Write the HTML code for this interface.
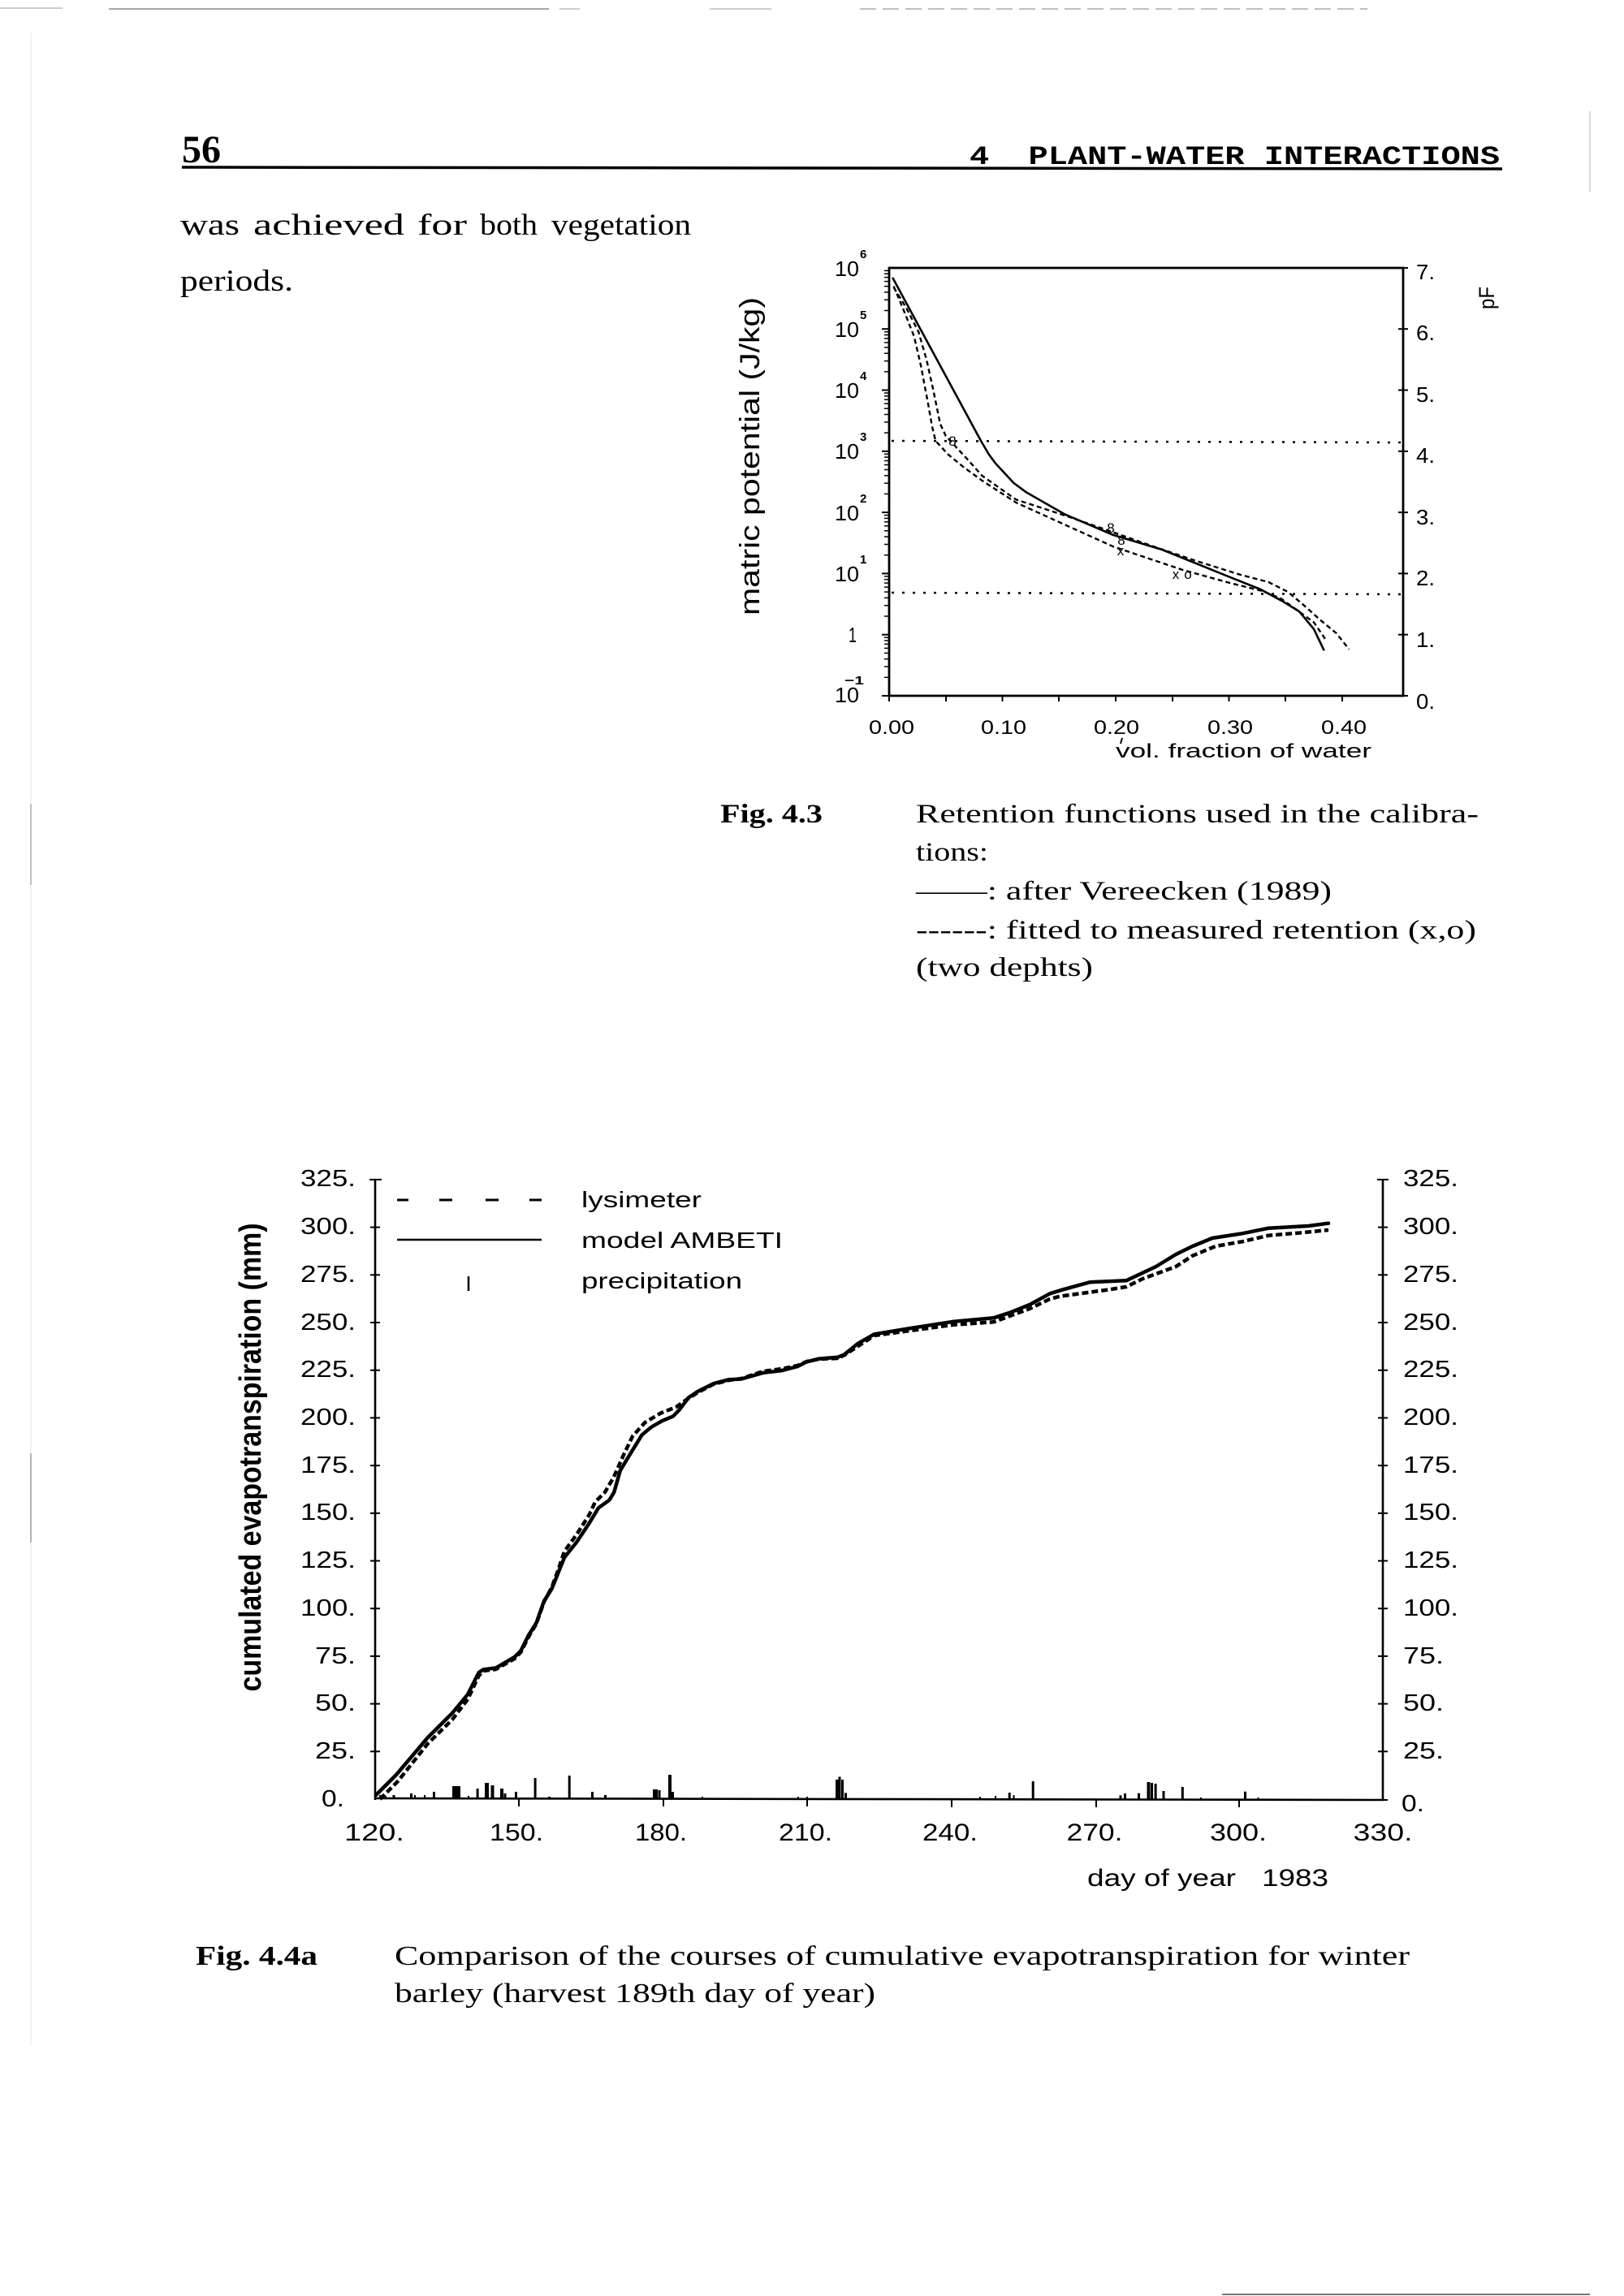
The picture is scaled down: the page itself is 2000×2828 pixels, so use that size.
<!DOCTYPE html>
<html><head><meta charset="utf-8"><style>
html,body{margin:0;padding:0;background:#fff;}
svg{display:block;}
.s{font-family:"Liberation Sans",sans-serif;}
.r{font-family:"Liberation Serif",serif;}
.m{font-family:"Liberation Mono",monospace;}
</style></head><body>
<svg width="2000" height="2828" viewBox="0 0 2000 2828" xmlns="http://www.w3.org/2000/svg">
<rect width="2000" height="2828" fill="#fff"/>
<!-- scan artifacts -->
<g stroke="#888" stroke-width="1.5" fill="none">
<line x1="0" y1="10" x2="77" y2="10" stroke="#bbb"/>
<line x1="134" y1="11" x2="676" y2="11"/>
<line x1="689" y1="11" x2="714" y2="11" stroke="#bbb"/>
<line x1="874" y1="11" x2="950" y2="11" stroke="#bbb"/>
<line x1="1059" y1="11" x2="1684" y2="11" stroke="#aaa" stroke-dasharray="20 8"/>
<line x1="38" y1="40" x2="38" y2="2520" stroke="#e4e4e4" stroke-width="1"/>
<line x1="38" y1="990" x2="38" y2="1090" stroke="#aaa"/>
<line x1="38" y1="1790" x2="38" y2="1900" stroke="#999"/>
<line x1="1958" y1="137" x2="1958" y2="236" stroke="#ccc"/>
<line x1="1505" y1="2826" x2="1958" y2="2826" stroke="#777" stroke-width="2"/>
</g>

<!-- header -->
<text class="r" x="224" y="200" font-size="48" font-weight="bold" textLength="48" lengthAdjust="spacingAndGlyphs">56</text>
<text class="m" x="1194" y="202" font-size="32" font-weight="bold" textLength="653" lengthAdjust="spacingAndGlyphs" xml:space="preserve">4  PLANT-WATER INTERACTIONS</text>
<line x1="224" y1="206" x2="1850" y2="208" stroke="#000" stroke-width="3.5"/>

<!-- body text -->
<g class="r" font-size="37">
<text x="222" y="289" textLength="73" lengthAdjust="spacingAndGlyphs">was</text>
<text x="312" y="289" textLength="186" lengthAdjust="spacingAndGlyphs">achieved</text>
<text x="514" y="289" textLength="61" lengthAdjust="spacingAndGlyphs">for</text>
<text x="591" y="289" textLength="71" lengthAdjust="spacingAndGlyphs">both</text>
<text x="679" y="289" textLength="172" lengthAdjust="spacingAndGlyphs">vegetation</text>
<text x="222" y="358" textLength="139" lengthAdjust="spacingAndGlyphs">periods.</text>
</g>

<!-- ============ Fig 4.3 ============ -->
<g fill="none" stroke="#000">
<rect x="1095" y="330" width="633" height="527" stroke-width="2.8"/>
</g>
<defs>
<g id="dec" stroke="#000" stroke-width="1.5">
<line x1="1086" y1="0" x2="1095" y2="0" stroke-width="2"/>
<line x1="1089" y1="-22.7" x2="1095" y2="-22.7"/>
<line x1="1089" y1="-35.9" x2="1095" y2="-35.9"/>
<line x1="1089" y1="-45.3" x2="1095" y2="-45.3"/>
<line x1="1089" y1="-52.6" x2="1095" y2="-52.6"/>
<line x1="1089" y1="-58.6" x2="1095" y2="-58.6"/>
<line x1="1089" y1="-63.6" x2="1095" y2="-63.6"/>
<line x1="1089" y1="-68.0" x2="1095" y2="-68.0"/>
<line x1="1089" y1="-71.8" x2="1095" y2="-71.8"/>
</g>
</defs>
<use href="#dec" y="857"/>
<use href="#dec" y="781.7"/>
<use href="#dec" y="706.4"/>
<use href="#dec" y="631.1"/>
<use href="#dec" y="555.8"/>
<use href="#dec" y="480.5"/>
<use href="#dec" y="405.2"/>
<!-- bottom ticks -->
<g stroke="#000" stroke-width="2">
<line x1="1165" y1="857" x2="1165" y2="864"/>
<line x1="1234.5" y1="857" x2="1234.5" y2="864"/>
<line x1="1304" y1="857" x2="1304" y2="864"/>
<line x1="1374" y1="857" x2="1374" y2="864"/>
<line x1="1444" y1="857" x2="1444" y2="864"/>
<line x1="1513.5" y1="857" x2="1513.5" y2="864"/>
<line x1="1583" y1="857" x2="1583" y2="864"/>
<line x1="1653" y1="857" x2="1653" y2="864"/>
<line x1="1095" y1="857" x2="1095" y2="864"/>
<!-- right ticks -->
<line x1="1722" y1="781.7" x2="1734" y2="781.7"/>
<line x1="1722" y1="706.4" x2="1734" y2="706.4"/>
<line x1="1722" y1="631.1" x2="1734" y2="631.1"/>
<line x1="1722" y1="555.8" x2="1734" y2="555.8"/>
<line x1="1722" y1="480.5" x2="1734" y2="480.5"/>
<line x1="1722" y1="405.2" x2="1734" y2="405.2"/>
<line x1="1722" y1="857" x2="1734" y2="857"/>
<line x1="1722" y1="330" x2="1734" y2="330"/>
</g>
<!-- dotted lines -->
<g stroke="#000" stroke-width="2.5" stroke-dasharray="3 10">
<line x1="1098" y1="543" x2="1725" y2="545"/>
<line x1="1098" y1="730" x2="1725" y2="732"/>
</g>
<!-- curves -->
<polyline fill="none" stroke="#000" stroke-width="2.6" stroke-linejoin="round" points="1099.2,341.9 1208.0,543.0 1217.8,559.6 1226.1,570.9 1231.7,576.9 1248.5,595.0 1263.8,606.3 1311.2,633.4 1371.2,659.0 1431.2,677.0 1509.3,708.7 1552.6,726.0 1579.1,740.3 1600.0,753.1 1618.1,774.9 1630.7,801.3"/>
<polyline fill="none" stroke="#000" stroke-width="2.4" stroke-dasharray="6 4" points="1100.6,354.0 1115.9,378.8 1131.3,409.0 1141.0,442.9 1149.4,480.5 1157.8,521.9 1164.8,537.0 1178.7,552.0 1192.7,567.1 1209.4,585.9 1251.2,615.3 1311.2,634.9 1365.6,653.7 1418.6,672.5 1474.4,691.3 1527.5,707.9 1562.3,717.0 1586.0,729.0 1604.2,744.1 1625.1,762.9 1646.0,780.2 1661.4,799.8"/>
<polyline fill="none" stroke="#000" stroke-width="2.4" stroke-dasharray="6 4" points="1100.6,352.5 1113.1,382.6 1125.7,414.2 1134.1,450.4 1142.4,494.1 1148.0,525.7 1152.2,543.0 1167.5,559.6 1185.7,574.6 1209.4,591.9 1251.2,619.0 1311.2,646.2 1371.2,673.3 1456.3,701.9 1513.5,717.7 1552.6,727.5 1576.3,736.5 1594.4,749.3 1618.1,766.6 1633.5,789.2"/>
<!-- markers -->
<g class="s" font-size="17" text-anchor="middle">
<text x="1173" y="549">8</text>
<text x="1368" y="656">8</text>
<text x="1381" y="671">8</text>
<text x="1380" y="684">x</text>
<text x="1448" y="713">x</text>
<text x="1463" y="713">o</text>
</g>
<!-- left tick labels -->
<g class="s" font-size="26" text-anchor="end">
<text x="1058" y="340" textLength="30" lengthAdjust="spacingAndGlyphs">10</text>
<text x="1058" y="415" textLength="30" lengthAdjust="spacingAndGlyphs">10</text>
<text x="1058" y="490" textLength="30" lengthAdjust="spacingAndGlyphs">10</text>
<text x="1058" y="565" textLength="30" lengthAdjust="spacingAndGlyphs">10</text>
<text x="1058" y="641" textLength="30" lengthAdjust="spacingAndGlyphs">10</text>
<text x="1058" y="716" textLength="30" lengthAdjust="spacingAndGlyphs">10</text>
<text x="1055" y="791" textLength="10" lengthAdjust="spacingAndGlyphs">1</text>
<text x="1058" y="865" textLength="30" lengthAdjust="spacingAndGlyphs">10</text>
</g>
<g class="s" font-size="15" font-weight="bold">
<text x="1059" y="318">6</text>
<text x="1059" y="393">5</text>
<text x="1059" y="468">4</text>
<text x="1059" y="543">3</text>
<text x="1059" y="619">2</text>
<text x="1059" y="694">1</text>
<text x="1040" y="843" textLength="24" lengthAdjust="spacingAndGlyphs">−1</text>
</g>
<!-- right tick labels -->
<g class="s" font-size="26">
<text x="1744" y="344" textLength="23" lengthAdjust="spacingAndGlyphs">7.</text>
<text x="1744" y="419" textLength="23" lengthAdjust="spacingAndGlyphs">6.</text>
<text x="1744" y="495" textLength="23" lengthAdjust="spacingAndGlyphs">5.</text>
<text x="1744" y="570" textLength="23" lengthAdjust="spacingAndGlyphs">4.</text>
<text x="1744" y="646" textLength="23" lengthAdjust="spacingAndGlyphs">3.</text>
<text x="1744" y="721" textLength="23" lengthAdjust="spacingAndGlyphs">2.</text>
<text x="1744" y="797" textLength="23" lengthAdjust="spacingAndGlyphs">1.</text>
<text x="1744" y="873" textLength="23" lengthAdjust="spacingAndGlyphs">0.</text>
</g>
<!-- x tick labels -->
<g class="s" font-size="24" text-anchor="middle">
<text x="1098" y="904" textLength="56" lengthAdjust="spacingAndGlyphs">0.00</text>
<text x="1236" y="904" textLength="56" lengthAdjust="spacingAndGlyphs">0.10</text>
<text x="1375" y="904" textLength="56" lengthAdjust="spacingAndGlyphs">0.20</text>
<text x="1515" y="904" textLength="56" lengthAdjust="spacingAndGlyphs">0.30</text>
<text x="1655" y="904" textLength="56" lengthAdjust="spacingAndGlyphs">0.40</text>
</g>
<line x1="1382" y1="909" x2="1380" y2="916" stroke="#000" stroke-width="2"/>
<text class="s" x="1374" y="933" font-size="24" textLength="315" lengthAdjust="spacingAndGlyphs">vol. fraction of water</text>
<text class="s" font-size="27" text-anchor="middle" textLength="392" lengthAdjust="spacingAndGlyphs" transform="translate(935,562) scale(1.28,1) rotate(-90)">matric potential (J/kg)</text>
<text class="s" font-size="21" text-anchor="middle" textLength="28" lengthAdjust="spacingAndGlyphs" transform="translate(1840,367) scale(1.28,1) rotate(-90)">pF</text>

<!-- caption 4.3 -->
<g class="r" font-size="33">
<text x="887" y="1013" font-weight="bold" textLength="126" lengthAdjust="spacingAndGlyphs">Fig. 4.3</text>
<text x="1128" y="1013" textLength="693" lengthAdjust="spacingAndGlyphs">Retention functions used in the calibra-</text>
<text x="1128" y="1060" textLength="89" lengthAdjust="spacingAndGlyphs">tions:</text>
<text x="1128" y="1108" textLength="512" lengthAdjust="spacingAndGlyphs">——: after Vereecken (1989)</text>
<text x="1128" y="1156" textLength="690" lengthAdjust="spacingAndGlyphs">------: fitted to measured retention (x,o)</text>
<text x="1128" y="1202" textLength="218" lengthAdjust="spacingAndGlyphs">(two dephts)</text>
</g>

<!-- ============ Fig 4.4a ============ -->
<g stroke="#000" stroke-width="2.6" fill="none">
<line x1="462" y1="1452" x2="462" y2="2217"/>
<line x1="1703" y1="1452" x2="1703" y2="2217"/>
<line x1="461" y1="2215" x2="1704" y2="2217"/>
</g>
<g stroke="#000" stroke-width="2">
<line x1="455" y1="1452.9" x2="470" y2="1452.9"/>
<line x1="456" y1="1511.6" x2="468" y2="1511.6"/>
<line x1="456" y1="1570.3" x2="468" y2="1570.3"/>
<line x1="456" y1="1629" x2="468" y2="1629"/>
<line x1="456" y1="1687.7" x2="468" y2="1687.7"/>
<line x1="456" y1="1746.4" x2="468" y2="1746.4"/>
<line x1="456" y1="1805.1" x2="468" y2="1805.1"/>
<line x1="456" y1="1863.8" x2="468" y2="1863.8"/>
<line x1="456" y1="1922.5" x2="468" y2="1922.5"/>
<line x1="456" y1="1981.2" x2="468" y2="1981.2"/>
<line x1="456" y1="2039.9" x2="468" y2="2039.9"/>
<line x1="456" y1="2098.6" x2="468" y2="2098.6"/>
<line x1="456" y1="2157.3" x2="468" y2="2157.3"/>
<line x1="1696" y1="1452.9" x2="1710" y2="1452.9"/>
<line x1="1697" y1="1511.6" x2="1709" y2="1511.6"/>
<line x1="1697" y1="1570.3" x2="1709" y2="1570.3"/>
<line x1="1697" y1="1629" x2="1709" y2="1629"/>
<line x1="1697" y1="1687.7" x2="1709" y2="1687.7"/>
<line x1="1697" y1="1746.4" x2="1709" y2="1746.4"/>
<line x1="1697" y1="1805.1" x2="1709" y2="1805.1"/>
<line x1="1697" y1="1863.8" x2="1709" y2="1863.8"/>
<line x1="1697" y1="1922.5" x2="1709" y2="1922.5"/>
<line x1="1697" y1="1981.2" x2="1709" y2="1981.2"/>
<line x1="1697" y1="2039.9" x2="1709" y2="2039.9"/>
<line x1="1697" y1="2098.6" x2="1709" y2="2098.6"/>
<line x1="1697" y1="2157.3" x2="1709" y2="2157.3"/>
<line x1="1697" y1="2217" x2="1709" y2="2217"/>
<line x1="639" y1="2216" x2="639" y2="2225"/>
<line x1="817" y1="2216" x2="817" y2="2225"/>
<line x1="994" y1="2216" x2="994" y2="2225"/>
<line x1="1172" y1="2217" x2="1172" y2="2226"/>
<line x1="1350" y1="2217" x2="1350" y2="2226"/>
<line x1="1526" y1="2217" x2="1526" y2="2226"/>
</g>
<!-- precipitation bars -->
<g fill="#000">
<rect x="467" y="2211" width="3" height="5"/><rect x="474" y="2212" width="2" height="4"/>
<rect x="483.5" y="2211" width="3" height="5"/><rect x="505" y="2209" width="3" height="7"/>
<rect x="510" y="2211" width="2" height="5"/><rect x="522" y="2211" width="2" height="5"/>
<rect x="533" y="2207" width="3" height="9"/><rect x="557" y="2200" width="10" height="16"/>
<rect x="576" y="2212" width="2" height="4"/>
<rect x="586.6" y="2203" width="3" height="13"/><rect x="597" y="2196" width="5" height="20"/>
<rect x="604.5" y="2199" width="4" height="17"/><rect x="616" y="2203" width="4" height="13"/>
<rect x="620.5" y="2209" width="3" height="7"/><rect x="634" y="2207" width="3" height="9"/>
<rect x="657.6" y="2190" width="3" height="26"/><rect x="675" y="2213" width="3" height="3"/>
<rect x="699.7" y="2187" width="3" height="29"/><rect x="728" y="2207" width="3" height="9"/>
<rect x="744" y="2211" width="3" height="5"/><rect x="804" y="2204" width="6" height="12"/>
<rect x="810.5" y="2205" width="3" height="11"/><rect x="823" y="2186" width="4" height="30"/>
<rect x="827" y="2207" width="3" height="9"/><rect x="864" y="2213" width="2" height="3"/>
<rect x="982" y="2213" width="2" height="3"/><rect x="993" y="2213" width="2" height="3"/>
<rect x="1029" y="2192" width="5" height="24"/><rect x="1032.5" y="2188.5" width="3" height="27.5"/>
<rect x="1036" y="2192" width="3" height="24"/><rect x="1040" y="2208.3" width="3" height="7.7"/>
<rect x="1206" y="2213" width="2" height="3"/><rect x="1225" y="2212" width="2" height="4"/>
<rect x="1241.7" y="2208" width="3" height="8"/><rect x="1247.5" y="2211" width="2" height="5"/>
<rect x="1270.7" y="2194" width="3" height="22"/><rect x="1378.5" y="2211.3" width="3" height="4.7"/>
<rect x="1384" y="2209" width="3" height="7"/><rect x="1401" y="2208.7" width="3" height="7.3"/>
<rect x="1412.5" y="2195" width="4" height="21"/><rect x="1417" y="2196" width="3" height="20"/>
<rect x="1421.6" y="2197" width="3" height="19"/><rect x="1431.5" y="2206" width="3" height="10"/>
<rect x="1454.8" y="2201" width="3" height="15"/><rect x="1478" y="2214" width="2" height="2"/>
<rect x="1532" y="2206.7" width="3" height="9.3"/><rect x="1548.5" y="2214" width="2" height="2"/>
</g>
<!-- curves -->
<polyline fill="none" stroke="#000" stroke-width="4.5" stroke-linejoin="round" stroke-linecap="round" points="463,2211 488,2186 526.5,2140.5 557,2110 576,2087 589.7,2060 595.4,2056.3 610.7,2054.4 633.7,2041 641.4,2033.3 651,2014 660.5,1999 670,1972 679.6,1956.8 687.3,1937.6 695,1918.5 710.2,1899.4 725.5,1876.4 737,1857.3 750.4,1847.7 756.2,1838.1 763.8,1811.4 775.3,1792.2 790.6,1767.3 802,1757.8 815.5,1750.1 828.9,1744.4 836.5,1736.7 848,1721.4 859.5,1713.8 878.6,1704.2 897.8,1699.2 913,1698.5 939.9,1690.8 962.8,1688.1 982,1683.1 993.4,1677.4 1008.7,1673.6 1031.7,1671.7 1040,1668.3 1056.3,1655 1076.7,1643.3 1121.6,1636 1174.7,1627.7 1223.7,1623.3 1244,1616.7 1268.6,1606.7 1293,1593.3 1309.4,1588.3 1342,1579.3 1387,1577.3 1423.7,1560 1448.2,1545 1468.6,1535 1493,1525 1529.8,1519.3 1562.4,1512.7 1611.4,1510 1636,1506.7"/>
<polyline fill="none" stroke="#000" stroke-width="4.5" stroke-dasharray="8 4" stroke-linejoin="round" points="468,2216 490,2194 526.5,2148 557,2118 576,2093 589.7,2064 595.4,2058 610.7,2056 633.7,2043 641.4,2035 651,2016 660.5,2000 670,1973 679.6,1955 687.3,1934 695,1911 710.2,1890 725.5,1866 733,1850 745,1838 756,1819 768,1792 779,1769 794.4,1752 813.6,1740.6 832.7,1733 844,1725 859.5,1715 878.6,1705 897.8,1700 913,1698 939.9,1689 962.8,1686 982,1682 993.4,1677 1008.7,1674 1031.7,1673 1040,1669 1076.7,1645 1174.7,1631.7 1223.7,1628.3 1268.6,1611.7 1293,1600 1305.3,1596.7 1366.5,1588.3 1387,1585 1407.3,1575 1448.2,1560 1468.6,1546.7 1497,1535 1529.8,1529.3 1562.4,1521.7 1603.3,1518.3 1636,1515"/>
<!-- legend -->
<g stroke="#000" stroke-width="3">
<line x1="489" y1="1478" x2="503" y2="1478"/>
<line x1="541" y1="1478" x2="557" y2="1478"/>
<line x1="598" y1="1478" x2="614" y2="1478"/>
<line x1="652" y1="1478" x2="667" y2="1478"/>
<line x1="489" y1="1527" x2="667" y2="1527" stroke-width="2.6"/>
<line x1="577" y1="1572" x2="577" y2="1590" stroke-width="2.5"/>
</g>
<g class="s" font-size="28">
<text x="716" y="1487" textLength="148" lengthAdjust="spacingAndGlyphs">lysimeter</text>
<text x="716" y="1537" textLength="248" lengthAdjust="spacingAndGlyphs">model AMBETI</text>
<text x="716" y="1587" textLength="198" lengthAdjust="spacingAndGlyphs">precipitation</text>
</g>
<!-- y tick labels -->
<g class="s" font-size="29" text-anchor="end">
<text x="438" y="1461" textLength="68" lengthAdjust="spacingAndGlyphs">325.</text>
<text x="438" y="1520" textLength="68" lengthAdjust="spacingAndGlyphs">300.</text>
<text x="438" y="1579" textLength="68" lengthAdjust="spacingAndGlyphs">275.</text>
<text x="438" y="1638" textLength="68" lengthAdjust="spacingAndGlyphs">250.</text>
<text x="438" y="1696" textLength="68" lengthAdjust="spacingAndGlyphs">225.</text>
<text x="438" y="1755" textLength="68" lengthAdjust="spacingAndGlyphs">200.</text>
<text x="438" y="1814" textLength="68" lengthAdjust="spacingAndGlyphs">175.</text>
<text x="438" y="1872" textLength="68" lengthAdjust="spacingAndGlyphs">150.</text>
<text x="438" y="1931" textLength="68" lengthAdjust="spacingAndGlyphs">125.</text>
<text x="438" y="1990" textLength="68" lengthAdjust="spacingAndGlyphs">100.</text>
<text x="438" y="2049" textLength="50" lengthAdjust="spacingAndGlyphs">75.</text>
<text x="438" y="2107" textLength="50" lengthAdjust="spacingAndGlyphs">50.</text>
<text x="438" y="2166" textLength="50" lengthAdjust="spacingAndGlyphs">25.</text>
<text x="424" y="2225" textLength="28" lengthAdjust="spacingAndGlyphs">0.</text>
</g>
<g class="s" font-size="29">
<text x="1728" y="1461" textLength="68" lengthAdjust="spacingAndGlyphs">325.</text>
<text x="1728" y="1520" textLength="68" lengthAdjust="spacingAndGlyphs">300.</text>
<text x="1728" y="1579" textLength="68" lengthAdjust="spacingAndGlyphs">275.</text>
<text x="1728" y="1638" textLength="68" lengthAdjust="spacingAndGlyphs">250.</text>
<text x="1728" y="1696" textLength="68" lengthAdjust="spacingAndGlyphs">225.</text>
<text x="1728" y="1755" textLength="68" lengthAdjust="spacingAndGlyphs">200.</text>
<text x="1728" y="1814" textLength="68" lengthAdjust="spacingAndGlyphs">175.</text>
<text x="1728" y="1872" textLength="68" lengthAdjust="spacingAndGlyphs">150.</text>
<text x="1728" y="1931" textLength="68" lengthAdjust="spacingAndGlyphs">125.</text>
<text x="1728" y="1990" textLength="68" lengthAdjust="spacingAndGlyphs">100.</text>
<text x="1728" y="2049" textLength="50" lengthAdjust="spacingAndGlyphs">75.</text>
<text x="1728" y="2107" textLength="50" lengthAdjust="spacingAndGlyphs">50.</text>
<text x="1728" y="2166" textLength="50" lengthAdjust="spacingAndGlyphs">25.</text>
<text x="1726" y="2231" textLength="28" lengthAdjust="spacingAndGlyphs">0.</text>
</g>
<!-- x tick labels -->
<g class="s" font-size="30" text-anchor="middle">
<text x="461" y="2267" textLength="74" lengthAdjust="spacingAndGlyphs">120.</text>
<text x="636" y="2267" textLength="66" lengthAdjust="spacingAndGlyphs">150.</text>
<text x="814" y="2267" textLength="64" lengthAdjust="spacingAndGlyphs">180.</text>
<text x="992" y="2267" textLength="66" lengthAdjust="spacingAndGlyphs">210.</text>
<text x="1170" y="2267" textLength="68" lengthAdjust="spacingAndGlyphs">240.</text>
<text x="1348" y="2267" textLength="69" lengthAdjust="spacingAndGlyphs">270.</text>
<text x="1525" y="2267" textLength="70" lengthAdjust="spacingAndGlyphs">300.</text>
<text x="1703" y="2267" textLength="73" lengthAdjust="spacingAndGlyphs">330.</text>
</g>
<g class="s" font-size="30">
<text x="1339" y="2323" textLength="183" lengthAdjust="spacingAndGlyphs">day of year</text>
<text x="1554" y="2323" textLength="82" lengthAdjust="spacingAndGlyphs">1983</text>
</g>
<text class="s" font-size="30" font-weight="bold" text-anchor="middle" textLength="577" lengthAdjust="spacingAndGlyphs" transform="translate(321,1795) scale(1.28,1) rotate(-90)">cumulated evapotranspiration (mm)</text>

<!-- caption 4.4a -->
<g class="r" font-size="34">
<text x="241" y="2420" font-weight="bold" textLength="150" lengthAdjust="spacingAndGlyphs">Fig. 4.4a</text>
<text x="486" y="2420" textLength="1250" lengthAdjust="spacingAndGlyphs">Comparison of the courses of cumulative evapotranspiration for winter</text>
<text x="486" y="2466" textLength="592" lengthAdjust="spacingAndGlyphs">barley (harvest 189th day of year)</text>
</g>
</svg>
</body></html>
